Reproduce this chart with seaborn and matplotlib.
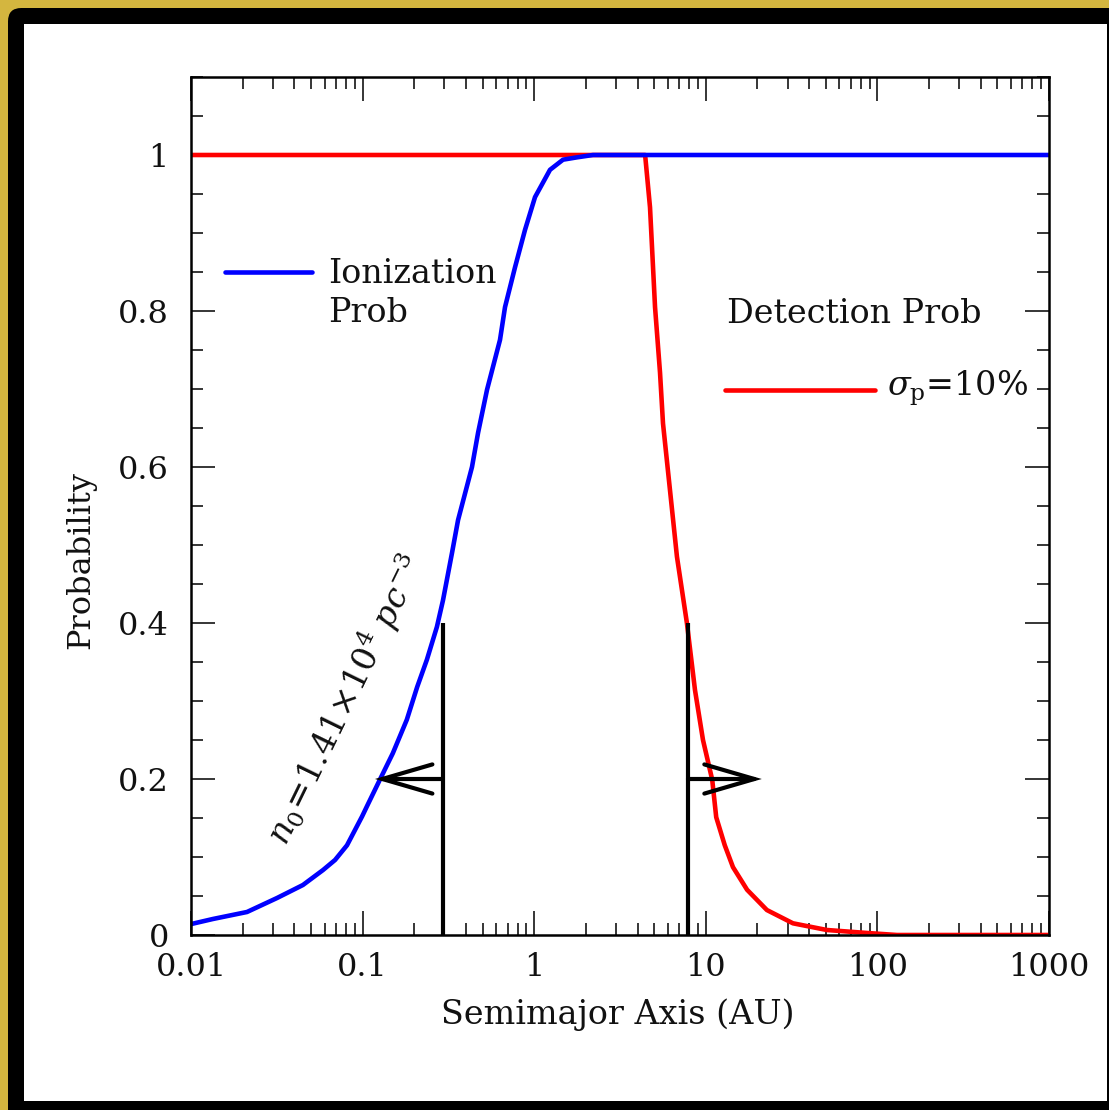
import numpy as np
import pandas as pd
import matplotlib
matplotlib.use("Agg")
import matplotlib.pyplot as plt
import seaborn as sns
from matplotlib.patches import FancyBboxPatch, Rectangle
from matplotlib.ticker import FixedLocator, FixedFormatter, LogLocator, NullFormatter, MultipleLocator

# ---------------- data ----------------
ion_a = [0.0100, 0.0134, 0.0212, 0.0317, 0.0449, 0.0588, 0.0691, 0.0811, 0.0993, 0.106,
         0.126, 0.150, 0.181, 0.208, 0.237, 0.271, 0.294, 0.332, 0.360, 0.434,
         0.471, 0.531, 0.632, 0.676, 0.773, 0.884, 1.011, 1.236, 1.472, 1.776,
         2.20, 10.0, 100.0, 1000.0]
ion_p = [0.014, 0.0205, 0.0295, 0.0474, 0.0641, 0.0833, 0.0962, 0.115, 0.152, 0.165,
         0.199, 0.233, 0.276, 0.318, 0.353, 0.395, 0.429, 0.490, 0.532, 0.600,
         0.644, 0.699, 0.763, 0.805, 0.856, 0.904, 0.946, 0.981, 0.994, 0.997,
         1.0, 1.0, 1.0, 1.0]

det_a = [0.01, 0.1, 1.0, 4.43, 4.73, 5.06, 5.41, 5.63, 6.18, 6.79,
         7.76, 8.65, 9.63, 10.9, 11.5, 12.9, 14.4, 17.4, 22.7, 32.2,
         50.8, 86.9, 130.0, 1000.0]
det_p = [1.0, 1.0, 1.0, 1.0, 0.933, 0.805, 0.721, 0.656, 0.571, 0.485,
         0.40, 0.314, 0.25, 0.199, 0.151, 0.115, 0.087, 0.058, 0.032, 0.015,
         0.0064, 0.0026, 0.0, 0.0]

x_ticks = [0.01, 0.1, 1, 10, 100, 1000]
x_labels = ["0.01", "0.1", "1", "10", "100", "1000"]
y_ticks = [0, 0.2, 0.4, 0.6, 0.8, 1.0]
y_labels = ["0", "0.2", "0.4", "0.6", "0.8", "1"]

marker_a = [0.294, 7.87]       # vertical marker positions
marker_top = 0.4
arrow_tip = [0.118, 21.2]      # arrow tips at y = 0.2
arrow_y = 0.2

# ---------------- style ----------------
sns.set_theme(style="ticks")
plt.rcParams["font.family"] = ["DejaVu Serif"]
plt.rcParams["mathtext.fontset"] = "dejavuserif"

FS = 23
fig = plt.figure(figsize=(11.09, 11.10), dpi=100, facecolor="#d4b63f")

# frame: black rounded border and white panel
fig.patches.append(FancyBboxPatch((8 / 1109, -0.05), 1.2, 1 - 8 / 1110 + 0.05,
                                  boxstyle="round,pad=0,rounding_size=0.012",
                                  transform=fig.transFigure, facecolor="black",
                                  edgecolor="none", zorder=0))
fig.patches.append(Rectangle((24 / 1109, 1 - 1101 / 1110), (1107 - 24) / 1109, (1101 - 24) / 1110,
                             transform=fig.transFigure, facecolor="white",
                             edgecolor="none", zorder=1))

ax = fig.add_axes([191 / 1109, 1 - 935 / 1110, 858 / 1109, 858 / 1110])
ax.set_facecolor("white")
ax.set_zorder(2)

df_det = pd.DataFrame({"a": det_a, "p": det_p})
df_ion = pd.DataFrame({"a": ion_a, "p": ion_p})
sns.lineplot(data=df_det, x="a", y="p", color="#ff0000", lw=3.3, ax=ax, estimator=None,
             solid_capstyle="butt")
sns.lineplot(data=df_ion, x="a", y="p", color="#0000ff", lw=3.3, ax=ax, estimator=None,
             solid_capstyle="butt")

ax.set_xscale("log")
ax.set_xlim(0.01, 1000)
ax.set_ylim(0, 1.1)

# markers and arrows
for xa, xt in zip(marker_a, arrow_tip):
    ax.plot([xa, xa], [0, marker_top], color="black", lw=3.0, solid_capstyle="butt", zorder=3)
    ax.annotate("", xy=(xt, arrow_y), xytext=(xa, arrow_y),
                arrowprops=dict(arrowstyle="->,head_length=3.6,head_width=1.05",
                                mutation_scale=10, lw=3.0, color="black",
                                shrinkA=0, shrinkB=0, capstyle="round", joinstyle="miter"),
                zorder=3)

# ticks
ax.xaxis.set_major_locator(FixedLocator(x_ticks))
ax.xaxis.set_major_formatter(FixedFormatter(x_labels))
ax.xaxis.set_minor_locator(LogLocator(base=10, subs=np.arange(2, 10), numticks=20))
ax.xaxis.set_minor_formatter(NullFormatter())
ax.yaxis.set_major_locator(FixedLocator(y_ticks))
ax.yaxis.set_major_formatter(FixedFormatter(y_labels))
ax.yaxis.set_minor_locator(MultipleLocator(0.05))

ax.tick_params(which="both", direction="in", top=True, right=True, color="black",
               labelsize=FS, labelcolor="#111111")
ax.tick_params(which="major", length=17, width=1.1)
ax.tick_params(which="minor", length=8.5, width=1.1)
ax.tick_params(axis="x", which="major", pad=12)
ax.tick_params(axis="y", which="major", pad=16)
for s in ax.spines.values():
    s.set_linewidth(1.8)
    s.set_color("black")

ax.set_xlabel("Semimajor Axis (AU)", fontsize=FS + 1, color="#111111")
ax.set_ylabel("Probability", fontsize=FS, color="#111111")
ax.xaxis.set_label_coords(0.4977, -0.0932)
ax.xaxis.label.set_va("center")
ax.yaxis.set_label_coords(-0.129, 0.437)
ax.yaxis.label.set_va("center")

# key entries
ax.plot([0.0396, 0.141], [0.7727, 0.7727], transform=ax.transAxes, color="#0000ff",
        lw=3.3, solid_capstyle="round")
ax.text(0.1597, 0.770, "Ionization", transform=ax.transAxes, fontsize=FS + 1,
        va="center", ha="left", color="#111111")
ax.text(0.1597, 0.725, "Prob", transform=ax.transAxes, fontsize=FS + 1,
        va="center", ha="left", color="#111111")
ax.text(0.6247, 0.7238, "Detection Prob", transform=ax.transAxes, fontsize=FS + 1,
        va="center", ha="left", color="#111111")
ax.plot([0.6224, 0.797], [0.635, 0.635], transform=ax.transAxes, color="#ff0000",
        lw=3.3, solid_capstyle="round")
ax.text(0.811, 0.637, r"$\sigma_{\mathrm{p}}$=10%", transform=ax.transAxes, fontsize=FS + 1,
        va="center", ha="left", color="#111111")

# rotated density annotation
ax.text(0.112, 0.103, r"$n_0\!=\!\mathit{1.41}\!\times\!\mathit{10}^4\ pc^{-3}$",
        transform=ax.transAxes, fontsize=FS + 1, rotation=64, rotation_mode="anchor",
        ha="left", va="baseline", color="#111111")

fig.savefig("out.png", dpi=100, facecolor=fig.get_facecolor())
